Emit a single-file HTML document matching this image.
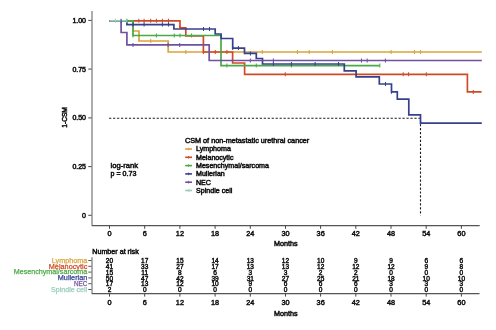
<!DOCTYPE html>
<html><head><meta charset="utf-8"><style>
html,body{margin:0;padding:0;background:#fff;width:496px;height:330px;overflow:hidden;font-family:"Liberation Sans",sans-serif;}
svg{display:block;will-change:transform;}
text{font-family:"Liberation Sans",sans-serif;}
</style></head><body>
<svg width="496" height="330" viewBox="0 0 496 330">
<rect width="496" height="330" fill="#fff"/>
<path d="M92 11 V225.6" fill="none" stroke="#a9a9a9" stroke-width="1.9"/>
<path d="M91.8 225.6 H479.7" fill="none" stroke="#555" stroke-width="1.15"/>
<path d="M88.3 20.4 H91.5" stroke="#444" stroke-width="1"/>
<text x="86.0" y="22.9" text-anchor="end" font-size="7.00" style="fill:#111;stroke:#111;stroke-width:0.50">1.00</text>
<path d="M88.3 69.1 H91.5" stroke="#444" stroke-width="1"/>
<text x="86.0" y="71.6" text-anchor="end" font-size="7.00" style="fill:#111;stroke:#111;stroke-width:0.50">0.75</text>
<path d="M88.3 117.9 H91.5" stroke="#444" stroke-width="1"/>
<text x="86.0" y="120.4" text-anchor="end" font-size="7.00" style="fill:#111;stroke:#111;stroke-width:0.50">0.50</text>
<path d="M88.3 166.6 H91.5" stroke="#444" stroke-width="1"/>
<text x="86.0" y="169.1" text-anchor="end" font-size="7.00" style="fill:#111;stroke:#111;stroke-width:0.50">0.25</text>
<path d="M88.3 215.3 H91.5" stroke="#444" stroke-width="1"/>
<text x="86.0" y="217.8" text-anchor="end" font-size="7.00" style="fill:#111;stroke:#111;stroke-width:0.50">0</text>
<path d="M109.5 225.6 V228.8" stroke="#444" stroke-width="1"/>
<text transform="translate(109.50 236.00) scale(0.950 1)" text-anchor="middle" font-size="7.70" style="fill:#111;stroke:#111;stroke-width:0.50">0</text>
<path d="M144.7 225.6 V228.8" stroke="#444" stroke-width="1"/>
<text transform="translate(144.69 236.00) scale(0.950 1)" text-anchor="middle" font-size="7.70" style="fill:#111;stroke:#111;stroke-width:0.50">6</text>
<path d="M179.9 225.6 V228.8" stroke="#444" stroke-width="1"/>
<text transform="translate(179.88 236.00) scale(0.950 1)" text-anchor="middle" font-size="7.70" style="fill:#111;stroke:#111;stroke-width:0.50">12</text>
<path d="M215.1 225.6 V228.8" stroke="#444" stroke-width="1"/>
<text transform="translate(215.07 236.00) scale(0.950 1)" text-anchor="middle" font-size="7.70" style="fill:#111;stroke:#111;stroke-width:0.50">18</text>
<path d="M250.3 225.6 V228.8" stroke="#444" stroke-width="1"/>
<text transform="translate(250.26 236.00) scale(0.950 1)" text-anchor="middle" font-size="7.70" style="fill:#111;stroke:#111;stroke-width:0.50">24</text>
<path d="M285.5 225.6 V228.8" stroke="#444" stroke-width="1"/>
<text transform="translate(285.45 236.00) scale(0.950 1)" text-anchor="middle" font-size="7.70" style="fill:#111;stroke:#111;stroke-width:0.50">30</text>
<path d="M320.6 225.6 V228.8" stroke="#444" stroke-width="1"/>
<text transform="translate(320.64 236.00) scale(0.950 1)" text-anchor="middle" font-size="7.70" style="fill:#111;stroke:#111;stroke-width:0.50">36</text>
<path d="M355.8 225.6 V228.8" stroke="#444" stroke-width="1"/>
<text transform="translate(355.83 236.00) scale(0.950 1)" text-anchor="middle" font-size="7.70" style="fill:#111;stroke:#111;stroke-width:0.50">42</text>
<path d="M391.0 225.6 V228.8" stroke="#444" stroke-width="1"/>
<text transform="translate(391.02 236.00) scale(0.950 1)" text-anchor="middle" font-size="7.70" style="fill:#111;stroke:#111;stroke-width:0.50">48</text>
<path d="M426.2 225.6 V228.8" stroke="#444" stroke-width="1"/>
<text transform="translate(426.21 236.00) scale(0.950 1)" text-anchor="middle" font-size="7.70" style="fill:#111;stroke:#111;stroke-width:0.50">54</text>
<path d="M461.4 225.6 V228.8" stroke="#444" stroke-width="1"/>
<text transform="translate(461.40 236.00) scale(0.950 1)" text-anchor="middle" font-size="7.70" style="fill:#111;stroke:#111;stroke-width:0.50">60</text>
<text x="285.7" y="245.7" text-anchor="middle" font-size="7.20" style="fill:#111;stroke:#111;stroke-width:0.50">Months</text>
<g transform="translate(66.7 117.4) rotate(-90)"><text x="0.0" y="0.0" text-anchor="middle" font-size="6.60" style="fill:#111;stroke:#111;stroke-width:0.50">1-CSM</text></g>
<path d="M109.1 118.2 H420.5 V215.5" fill="none" stroke="#1a1a1a" stroke-width="1.1" stroke-dasharray="2.2 1.765"/>
<path d="M109.5 20.8 H133.0 V31.0 H139.0 V41.0 H168.2 V52.0 H481.8" fill="none" stroke="#D8A43C" stroke-width="1.70"/>
<path d="M109.5 20.8 H180.0 V27.8 H185.8 V36.0 H203.4 V52.0 H232.6 V63.0 H244.6 V74.3 H467.4 V91.9 H481.6" fill="none" stroke="#CF4B27" stroke-width="1.70"/>
<path d="M109.5 20.8 H133.0 V35.5 H221.0 V65.6 H379.8" fill="none" stroke="#4BAA46" stroke-width="1.70"/>
<path d="M109.5 20.8 H126.9 V24.6 H173.9 V29.0 H215.2 V34.0 H221.1 V38.5 H232.7 V48.1 H244.5 V53.4 H256.3 V58.5 H262.5 V64.0 H344.3 V70.9 H356.1 V76.8 H379.3 V84.0 H391.5 V91.8 H397.3 V99.1 H408.8 V114.8 H420.5 V123.1 H481.8" fill="none" stroke="#35418F" stroke-width="1.70"/>
<path d="M109.5 20.8 H121.1 V32.5 H126.9 V44.9 H209.2 V60.5 H481.8" fill="none" stroke="#70519E" stroke-width="1.70"/>
<path d="M109.5 20.8 H127.0" fill="none" stroke="#98CDB9" stroke-width="1.70"/>
<path d="M150.7 39.0 v4 M185.8 50.0 v4 M262.3 50.0 v4 M297.4 50.0 v4 M309.2 50.0 v4 M332.4 50.0 v4 M391.1 50.0 v4 M414.5 50.0 v4 M420.5 50.0 v4 " fill="none" stroke="#D8A43C" stroke-width="1.05"/>
<path d="M138.8 18.8 v4 M144.1 18.8 v4 M150.7 18.8 v4 M156.4 18.8 v4 M162.4 18.8 v4 M168.5 18.8 v4 M179.8 25.8 v4 M203.4 50.0 v4 M215.3 50.0 v4 M226.9 50.0 v4 M285.3 72.3 v4 M403.2 72.3 v4 M408.6 72.3 v4 M426.3 72.3 v4 M473.3 89.9 v4 " fill="none" stroke="#CF4B27" stroke-width="1.05"/>
<path d="M126.9 18.8 v4 M133.0 33.5 v4 M156.4 33.5 v4 M174.3 33.5 v4 M180.0 33.5 v4 M191.5 33.5 v4 M226.9 63.6 v4 M256.3 63.6 v4 M291.4 63.6 v4 M379.8 63.6 v4 " fill="none" stroke="#4BAA46" stroke-width="1.05"/>
<path d="M121.1 18.8 v4 M133.0 22.6 v4 M144.1 22.6 v4 M162.4 22.6 v4 M168.5 22.6 v4 M203.5 27.0 v4 M209.5 27.0 v4 M232.7 46.1 v4 M238.4 46.1 v4 M250.4 51.4 v4 M273.4 62.0 v4 M291.4 62.0 v4 M315.1 62.0 v4 M338.5 62.0 v4 M385.5 82.0 v4 M391.5 89.8 v4 M420.5 121.1 v4 " fill="none" stroke="#35418F" stroke-width="1.05"/>
<path d="M133.0 42.9 v4 M168.1 42.9 v4 M179.7 42.9 v4 M250.3 58.5 v4 M273.4 58.5 v4 M361.5 58.5 v4 M367.2 58.5 v4 M385.4 58.5 v4 " fill="none" stroke="#70519E" stroke-width="1.05"/>
<path d="M115.4 18.8 v4 M126.9 18.8 v4 " fill="none" stroke="#98CDB9" stroke-width="1.05"/>
<text x="110.6" y="168.1" font-size="7.60" style="fill:#111;stroke:#111;stroke-width:0.50">log-rank</text>
<text x="110.6" y="176.1" font-size="7.10" style="fill:#111;stroke:#111;stroke-width:0.50">p = 0.73</text>
<text x="184.9" y="143.0" font-size="7.27" style="fill:#111;stroke:#111;stroke-width:0.50">CSM of non-metastatic urethral cancer</text>
<path d="M185.2 149.0 H192" stroke="#D8A43C" stroke-width="1.6"/><path d="M188.6 147.7 v2.6" stroke="#D8A43C" stroke-width="0.9"/>
<text x="196.0" y="151.4" font-size="7.10" style="fill:#111;stroke:#111;stroke-width:0.50">Lymphoma</text>
<path d="M185.2 157.3 H192" stroke="#CF4B27" stroke-width="1.6"/><path d="M188.6 156.0 v2.6" stroke="#CF4B27" stroke-width="0.9"/>
<text x="196.0" y="159.7" font-size="7.10" style="fill:#111;stroke:#111;stroke-width:0.50">Melanocytic</text>
<path d="M185.2 165.6 H192" stroke="#4BAA46" stroke-width="1.6"/><path d="M188.6 164.3 v2.6" stroke="#4BAA46" stroke-width="0.9"/>
<text x="196.0" y="168.0" font-size="7.10" style="fill:#111;stroke:#111;stroke-width:0.50">Mesenchymal/sarcoma</text>
<path d="M185.2 173.9 H192" stroke="#35418F" stroke-width="1.6"/><path d="M188.6 172.6 v2.6" stroke="#35418F" stroke-width="0.9"/>
<text x="196.0" y="176.3" font-size="7.10" style="fill:#111;stroke:#111;stroke-width:0.50">Mullerian</text>
<path d="M185.2 182.2 H192" stroke="#70519E" stroke-width="1.6"/><path d="M188.6 180.9 v2.6" stroke="#70519E" stroke-width="0.9"/>
<text x="196.0" y="184.6" font-size="7.10" style="fill:#111;stroke:#111;stroke-width:0.50">NEC</text>
<path d="M185.2 190.5 H192" stroke="#98CDB9" stroke-width="1.6"/><path d="M188.6 189.2 v2.6" stroke="#98CDB9" stroke-width="0.9"/>
<text x="196.0" y="192.9" font-size="7.10" style="fill:#111;stroke:#111;stroke-width:0.50">Spindle cell</text>
<text x="92.3" y="253.8" font-size="7.15" style="fill:#111;stroke:#111;stroke-width:0.50">Number at risk</text>
<path d="M92 257.3 V293.5" fill="none" stroke="#a9a9a9" stroke-width="1.9"/>
<path d="M91.8 293.55 H479.5" fill="none" stroke="#555" stroke-width="1.15"/>
<path d="M88.3 260.5 H91.5" stroke="#555" stroke-width="1"/>
<text x="51.8" y="262.8" textLength="35.5" lengthAdjust="spacingAndGlyphs" font-size="7.40" style="fill:#D8A43C;stroke:#D8A43C;stroke-width:0.25">Lymphoma</text>
<text transform="translate(109.50 263.20) scale(0.870 1)" text-anchor="middle" font-size="7.50" style="fill:#111;stroke:#111;stroke-width:0.50">20</text>
<text transform="translate(144.69 263.20) scale(0.870 1)" text-anchor="middle" font-size="7.50" style="fill:#111;stroke:#111;stroke-width:0.50">17</text>
<text transform="translate(179.88 263.20) scale(0.870 1)" text-anchor="middle" font-size="7.50" style="fill:#111;stroke:#111;stroke-width:0.50">15</text>
<text transform="translate(215.07 263.20) scale(0.870 1)" text-anchor="middle" font-size="7.50" style="fill:#111;stroke:#111;stroke-width:0.50">14</text>
<text transform="translate(250.26 263.20) scale(0.870 1)" text-anchor="middle" font-size="7.50" style="fill:#111;stroke:#111;stroke-width:0.50">13</text>
<text transform="translate(285.45 263.20) scale(0.870 1)" text-anchor="middle" font-size="7.50" style="fill:#111;stroke:#111;stroke-width:0.50">12</text>
<text transform="translate(320.64 263.20) scale(0.870 1)" text-anchor="middle" font-size="7.50" style="fill:#111;stroke:#111;stroke-width:0.50">10</text>
<text transform="translate(355.83 263.20) scale(0.870 1)" text-anchor="middle" font-size="7.50" style="fill:#111;stroke:#111;stroke-width:0.50">9</text>
<text transform="translate(391.02 263.20) scale(0.870 1)" text-anchor="middle" font-size="7.50" style="fill:#111;stroke:#111;stroke-width:0.50">9</text>
<text transform="translate(426.21 263.20) scale(0.870 1)" text-anchor="middle" font-size="7.50" style="fill:#111;stroke:#111;stroke-width:0.50">6</text>
<text transform="translate(461.40 263.20) scale(0.870 1)" text-anchor="middle" font-size="7.50" style="fill:#111;stroke:#111;stroke-width:0.50">6</text>
<path d="M88.3 266.3 H91.5" stroke="#555" stroke-width="1"/>
<text x="48.8" y="268.6" textLength="38.5" lengthAdjust="spacingAndGlyphs" font-size="7.40" style="fill:#CF4B27;stroke:#CF4B27;stroke-width:0.25">Melanocytic</text>
<text transform="translate(109.50 269.00) scale(0.870 1)" text-anchor="middle" font-size="7.50" style="fill:#111;stroke:#111;stroke-width:0.50">41</text>
<text transform="translate(144.69 269.00) scale(0.870 1)" text-anchor="middle" font-size="7.50" style="fill:#111;stroke:#111;stroke-width:0.50">33</text>
<text transform="translate(179.88 269.00) scale(0.870 1)" text-anchor="middle" font-size="7.50" style="fill:#111;stroke:#111;stroke-width:0.50">27</text>
<text transform="translate(215.07 269.00) scale(0.870 1)" text-anchor="middle" font-size="7.50" style="fill:#111;stroke:#111;stroke-width:0.50">17</text>
<text transform="translate(250.26 269.00) scale(0.870 1)" text-anchor="middle" font-size="7.50" style="fill:#111;stroke:#111;stroke-width:0.50">13</text>
<text transform="translate(285.45 269.00) scale(0.870 1)" text-anchor="middle" font-size="7.50" style="fill:#111;stroke:#111;stroke-width:0.50">13</text>
<text transform="translate(320.64 269.00) scale(0.870 1)" text-anchor="middle" font-size="7.50" style="fill:#111;stroke:#111;stroke-width:0.50">12</text>
<text transform="translate(355.83 269.00) scale(0.870 1)" text-anchor="middle" font-size="7.50" style="fill:#111;stroke:#111;stroke-width:0.50">12</text>
<text transform="translate(391.02 269.00) scale(0.870 1)" text-anchor="middle" font-size="7.50" style="fill:#111;stroke:#111;stroke-width:0.50">12</text>
<text transform="translate(426.21 269.00) scale(0.870 1)" text-anchor="middle" font-size="7.50" style="fill:#111;stroke:#111;stroke-width:0.50">9</text>
<text transform="translate(461.40 269.00) scale(0.870 1)" text-anchor="middle" font-size="7.50" style="fill:#111;stroke:#111;stroke-width:0.50">8</text>
<path d="M88.3 272.1 H91.5" stroke="#555" stroke-width="1"/>
<text x="13.7" y="274.4" textLength="73.6" lengthAdjust="spacingAndGlyphs" font-size="7.40" style="fill:#4BAA46;stroke:#4BAA46;stroke-width:0.25">Mesenchymal/sarcoma</text>
<text transform="translate(109.50 274.80) scale(0.870 1)" text-anchor="middle" font-size="7.50" style="fill:#111;stroke:#111;stroke-width:0.50">15</text>
<text transform="translate(144.69 274.80) scale(0.870 1)" text-anchor="middle" font-size="7.50" style="fill:#111;stroke:#111;stroke-width:0.50">11</text>
<text transform="translate(179.88 274.80) scale(0.870 1)" text-anchor="middle" font-size="7.50" style="fill:#111;stroke:#111;stroke-width:0.50">8</text>
<text transform="translate(215.07 274.80) scale(0.870 1)" text-anchor="middle" font-size="7.50" style="fill:#111;stroke:#111;stroke-width:0.50">6</text>
<text transform="translate(250.26 274.80) scale(0.870 1)" text-anchor="middle" font-size="7.50" style="fill:#111;stroke:#111;stroke-width:0.50">3</text>
<text transform="translate(285.45 274.80) scale(0.870 1)" text-anchor="middle" font-size="7.50" style="fill:#111;stroke:#111;stroke-width:0.50">3</text>
<text transform="translate(320.64 274.80) scale(0.870 1)" text-anchor="middle" font-size="7.50" style="fill:#111;stroke:#111;stroke-width:0.50">2</text>
<text transform="translate(355.83 274.80) scale(0.870 1)" text-anchor="middle" font-size="7.50" style="fill:#111;stroke:#111;stroke-width:0.50">2</text>
<text transform="translate(391.02 274.80) scale(0.870 1)" text-anchor="middle" font-size="7.50" style="fill:#111;stroke:#111;stroke-width:0.50">0</text>
<text transform="translate(426.21 274.80) scale(0.870 1)" text-anchor="middle" font-size="7.50" style="fill:#111;stroke:#111;stroke-width:0.50">0</text>
<text transform="translate(461.40 274.80) scale(0.870 1)" text-anchor="middle" font-size="7.50" style="fill:#111;stroke:#111;stroke-width:0.50">0</text>
<path d="M88.3 277.9 H91.5" stroke="#555" stroke-width="1"/>
<text x="57.8" y="280.2" textLength="29.5" lengthAdjust="spacingAndGlyphs" font-size="7.40" style="fill:#35418F;stroke:#35418F;stroke-width:0.25">Mullerian</text>
<text transform="translate(109.50 280.60) scale(0.870 1)" text-anchor="middle" font-size="7.50" style="fill:#111;stroke:#111;stroke-width:0.50">50</text>
<text transform="translate(144.69 280.60) scale(0.870 1)" text-anchor="middle" font-size="7.50" style="fill:#111;stroke:#111;stroke-width:0.50">47</text>
<text transform="translate(179.88 280.60) scale(0.870 1)" text-anchor="middle" font-size="7.50" style="fill:#111;stroke:#111;stroke-width:0.50">42</text>
<text transform="translate(215.07 280.60) scale(0.870 1)" text-anchor="middle" font-size="7.50" style="fill:#111;stroke:#111;stroke-width:0.50">39</text>
<text transform="translate(250.26 280.60) scale(0.870 1)" text-anchor="middle" font-size="7.50" style="fill:#111;stroke:#111;stroke-width:0.50">31</text>
<text transform="translate(285.45 280.60) scale(0.870 1)" text-anchor="middle" font-size="7.50" style="fill:#111;stroke:#111;stroke-width:0.50">27</text>
<text transform="translate(320.64 280.60) scale(0.870 1)" text-anchor="middle" font-size="7.50" style="fill:#111;stroke:#111;stroke-width:0.50">25</text>
<text transform="translate(355.83 280.60) scale(0.870 1)" text-anchor="middle" font-size="7.50" style="fill:#111;stroke:#111;stroke-width:0.50">21</text>
<text transform="translate(391.02 280.60) scale(0.870 1)" text-anchor="middle" font-size="7.50" style="fill:#111;stroke:#111;stroke-width:0.50">18</text>
<text transform="translate(426.21 280.60) scale(0.870 1)" text-anchor="middle" font-size="7.50" style="fill:#111;stroke:#111;stroke-width:0.50">10</text>
<text transform="translate(461.40 280.60) scale(0.870 1)" text-anchor="middle" font-size="7.50" style="fill:#111;stroke:#111;stroke-width:0.50">10</text>
<path d="M88.3 283.7 H91.5" stroke="#555" stroke-width="1"/>
<text x="73.9" y="286.0" textLength="13.4" lengthAdjust="spacingAndGlyphs" font-size="7.40" style="fill:#70519E;stroke:#70519E;stroke-width:0.25">NEC</text>
<text transform="translate(109.50 286.40) scale(0.870 1)" text-anchor="middle" font-size="7.50" style="fill:#111;stroke:#111;stroke-width:0.50">17</text>
<text transform="translate(144.69 286.40) scale(0.870 1)" text-anchor="middle" font-size="7.50" style="fill:#111;stroke:#111;stroke-width:0.50">13</text>
<text transform="translate(179.88 286.40) scale(0.870 1)" text-anchor="middle" font-size="7.50" style="fill:#111;stroke:#111;stroke-width:0.50">12</text>
<text transform="translate(215.07 286.40) scale(0.870 1)" text-anchor="middle" font-size="7.50" style="fill:#111;stroke:#111;stroke-width:0.50">10</text>
<text transform="translate(250.26 286.40) scale(0.870 1)" text-anchor="middle" font-size="7.50" style="fill:#111;stroke:#111;stroke-width:0.50">9</text>
<text transform="translate(285.45 286.40) scale(0.870 1)" text-anchor="middle" font-size="7.50" style="fill:#111;stroke:#111;stroke-width:0.50">6</text>
<text transform="translate(320.64 286.40) scale(0.870 1)" text-anchor="middle" font-size="7.50" style="fill:#111;stroke:#111;stroke-width:0.50">6</text>
<text transform="translate(355.83 286.40) scale(0.870 1)" text-anchor="middle" font-size="7.50" style="fill:#111;stroke:#111;stroke-width:0.50">6</text>
<text transform="translate(391.02 286.40) scale(0.870 1)" text-anchor="middle" font-size="7.50" style="fill:#111;stroke:#111;stroke-width:0.50">3</text>
<text transform="translate(426.21 286.40) scale(0.870 1)" text-anchor="middle" font-size="7.50" style="fill:#111;stroke:#111;stroke-width:0.50">3</text>
<text transform="translate(461.40 286.40) scale(0.870 1)" text-anchor="middle" font-size="7.50" style="fill:#111;stroke:#111;stroke-width:0.50">3</text>
<path d="M88.3 289.5 H91.5" stroke="#555" stroke-width="1"/>
<text x="51.1" y="291.8" textLength="36.1" lengthAdjust="spacingAndGlyphs" font-size="7.40" style="fill:#98CDB9;stroke:#98CDB9;stroke-width:0.25">Spindle cell</text>
<text transform="translate(109.50 292.20) scale(0.870 1)" text-anchor="middle" font-size="7.50" style="fill:#111;stroke:#111;stroke-width:0.50">2</text>
<text transform="translate(144.69 292.20) scale(0.870 1)" text-anchor="middle" font-size="7.50" style="fill:#111;stroke:#111;stroke-width:0.50">0</text>
<text transform="translate(179.88 292.20) scale(0.870 1)" text-anchor="middle" font-size="7.50" style="fill:#111;stroke:#111;stroke-width:0.50">0</text>
<text transform="translate(215.07 292.20) scale(0.870 1)" text-anchor="middle" font-size="7.50" style="fill:#111;stroke:#111;stroke-width:0.50">0</text>
<text transform="translate(250.26 292.20) scale(0.870 1)" text-anchor="middle" font-size="7.50" style="fill:#111;stroke:#111;stroke-width:0.50">0</text>
<text transform="translate(285.45 292.20) scale(0.870 1)" text-anchor="middle" font-size="7.50" style="fill:#111;stroke:#111;stroke-width:0.50">0</text>
<text transform="translate(320.64 292.20) scale(0.870 1)" text-anchor="middle" font-size="7.50" style="fill:#111;stroke:#111;stroke-width:0.50">0</text>
<text transform="translate(355.83 292.20) scale(0.870 1)" text-anchor="middle" font-size="7.50" style="fill:#111;stroke:#111;stroke-width:0.50">0</text>
<text transform="translate(391.02 292.20) scale(0.870 1)" text-anchor="middle" font-size="7.50" style="fill:#111;stroke:#111;stroke-width:0.50">0</text>
<text transform="translate(426.21 292.20) scale(0.870 1)" text-anchor="middle" font-size="7.50" style="fill:#111;stroke:#111;stroke-width:0.50">0</text>
<text transform="translate(461.40 292.20) scale(0.870 1)" text-anchor="middle" font-size="7.50" style="fill:#111;stroke:#111;stroke-width:0.50">0</text>
<path d="M109.5 293.6 V296.6" stroke="#444" stroke-width="1"/>
<text transform="translate(109.50 305.40) scale(0.950 1)" text-anchor="middle" font-size="7.70" style="fill:#111;stroke:#111;stroke-width:0.50">0</text>
<path d="M144.7 293.6 V296.6" stroke="#444" stroke-width="1"/>
<text transform="translate(144.69 305.40) scale(0.950 1)" text-anchor="middle" font-size="7.70" style="fill:#111;stroke:#111;stroke-width:0.50">6</text>
<path d="M179.9 293.6 V296.6" stroke="#444" stroke-width="1"/>
<text transform="translate(179.88 305.40) scale(0.950 1)" text-anchor="middle" font-size="7.70" style="fill:#111;stroke:#111;stroke-width:0.50">12</text>
<path d="M215.1 293.6 V296.6" stroke="#444" stroke-width="1"/>
<text transform="translate(215.07 305.40) scale(0.950 1)" text-anchor="middle" font-size="7.70" style="fill:#111;stroke:#111;stroke-width:0.50">18</text>
<path d="M250.3 293.6 V296.6" stroke="#444" stroke-width="1"/>
<text transform="translate(250.26 305.40) scale(0.950 1)" text-anchor="middle" font-size="7.70" style="fill:#111;stroke:#111;stroke-width:0.50">24</text>
<path d="M285.5 293.6 V296.6" stroke="#444" stroke-width="1"/>
<text transform="translate(285.45 305.40) scale(0.950 1)" text-anchor="middle" font-size="7.70" style="fill:#111;stroke:#111;stroke-width:0.50">30</text>
<path d="M320.6 293.6 V296.6" stroke="#444" stroke-width="1"/>
<text transform="translate(320.64 305.40) scale(0.950 1)" text-anchor="middle" font-size="7.70" style="fill:#111;stroke:#111;stroke-width:0.50">36</text>
<path d="M355.8 293.6 V296.6" stroke="#444" stroke-width="1"/>
<text transform="translate(355.83 305.40) scale(0.950 1)" text-anchor="middle" font-size="7.70" style="fill:#111;stroke:#111;stroke-width:0.50">42</text>
<path d="M391.0 293.6 V296.6" stroke="#444" stroke-width="1"/>
<text transform="translate(391.02 305.40) scale(0.950 1)" text-anchor="middle" font-size="7.70" style="fill:#111;stroke:#111;stroke-width:0.50">48</text>
<path d="M426.2 293.6 V296.6" stroke="#444" stroke-width="1"/>
<text transform="translate(426.21 305.40) scale(0.950 1)" text-anchor="middle" font-size="7.70" style="fill:#111;stroke:#111;stroke-width:0.50">54</text>
<path d="M461.4 293.6 V296.6" stroke="#444" stroke-width="1"/>
<text transform="translate(461.40 305.40) scale(0.950 1)" text-anchor="middle" font-size="7.70" style="fill:#111;stroke:#111;stroke-width:0.50">60</text>
<text x="285.7" y="316.2" text-anchor="middle" font-size="7.20" style="fill:#111;stroke:#111;stroke-width:0.50">Months</text>
</svg>
</body></html>
